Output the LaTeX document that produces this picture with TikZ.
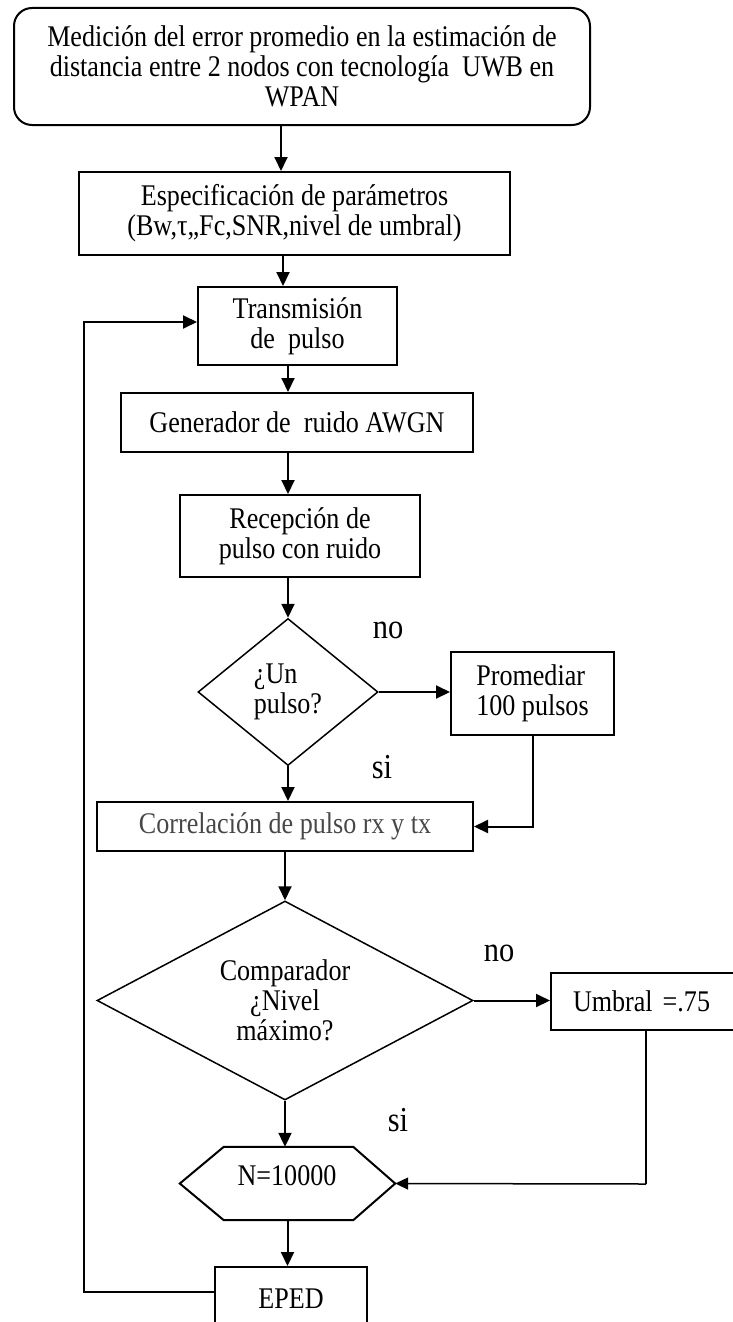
\documentclass[tikz,border=0pt]{standalone}
\usepackage{fontspec}
\setmainfont{Liberation Serif}[FakeStretch=0.87]
\usetikzlibrary{arrows.meta,shapes.geometric,calc}

\begin{document}
\begin{tikzpicture}[x=1pt,y=-1pt,
  txt/.style={font=\fontsize{30}{30}\selectfont, align=center, inner sep=0pt},
  box/.style={txt, draw, line width=2pt, rectangle},
  decision/.style={txt, draw, line width=1.5pt, diamond},
  arr/.style={line width=2pt, -{Triangle[length=14pt,width=13pt]}},
  thinarr/.style={line width=1.5pt, -{Triangle[length=13pt,width=12pt]}},
  answer/.style={font=\fontsize{35}{35}\selectfont, inner sep=0pt}
]
\useasboundingbox (0,0) rectangle (733,1322);

% process blocks
\node[box, rounded corners=18pt, minimum width=576pt, minimum height=117pt] (top) at (302,66.5)
  {Medición del error promedio en la estimación de\\distancia entre 2 nodos con tecnología\ \ UWB en\\WPAN};
\node[box, minimum width=431pt, minimum height=83pt] (spec) at (294.5,213.5)
  {Especificación de parámetros\\(Bw,τ,,Fc,SNR,nivel de umbral)};
\node[box, minimum width=199pt, minimum height=78pt] (trans) at (297.5,326)
  {Transmisión\\de\ \ pulso};
\node[box, minimum width=352pt, minimum height=59pt] (gen) at (297,422.5)
  {Generador de\ \ ruido AWGN};
\node[box, minimum width=240pt, minimum height=82pt] (recep) at (300,536)
  {Recepción de\\pulso con ruido};
\node[decision, minimum width=180pt, minimum height=147pt, align=left] (dec1) at (288,692)
  {¿Un\\pulso?};
\node[box, minimum width=163pt, minimum height=83pt, align=left] (prom) at (532.5,693.5)
  {Promediar\\100 pulsos};
\node[box, minimum width=376pt, minimum height=49pt, text=black!72] (corr) at (285,826.5)
  {Correlación de pulso rx y tx};
\node[decision, aspect=1.9, minimum width=376pt, minimum height=199pt] (dec2) at (285,1000.5)
  {Comparador\\¿Nivel\\máximo?};
\node[box, anchor=west, text width=173pt, align=left, inner xsep=22pt, minimum height=57pt] (umb) at (550,1001.5)
  {Umbral =.75};

% counter block (hexagon)
\node[minimum width=215pt, minimum height=73pt, inner sep=0pt] (hex) at (287.5,1183.5) {};
\draw[line width=2pt] (hex.west) -- ([xshift=44pt]hex.north west) -- ([xshift=-42pt]hex.north east)
  -- (hex.east) -- ([xshift=-42pt]hex.south east) -- ([xshift=44pt]hex.south west) -- cycle;
\node[txt] (hexlabel) at (287,1176) {N=10000};

\node[box, minimum width=152pt, minimum height=63pt] (eped) at (291,1298.5) {EPED};

% decision answers
\node[answer] (no1) at (388,630) {no};
\node[answer] (si1) at (382,767) {si};
\node[answer] (no2) at (499,953) {no};
\node[answer] (si2) at (398,1120) {si};

% main flow
\draw[arr] ([xshift=-21pt]top.south) -- ([xshift=-21pt]top.south |- spec.north);
\draw[arr] ([xshift=-11.5pt]spec.south) -- ([xshift=-11.5pt]spec.south |- trans.north);
\draw[arr] ([xshift=-9.5pt]trans.south) -- ([xshift=-9.5pt]trans.south |- gen.north);
\draw[arr] ([xshift=-9pt]gen.south) -- ([xshift=-9pt]gen.south |- recep.north);
\draw[arr] (recep.south -| dec1.north) -- (dec1.north);
\draw[arr] (dec1.east) -- (dec1.east -| prom.west);
\draw[arr] (dec1.south) -- (dec1.south |- corr.north);
\draw[arr] (prom.south) |- (corr.east);
\draw[arr] (corr.south) -- (dec2.north);
\draw[arr] (dec2.east) -- (dec2.east -| umb.west);
\draw[arr] (dec2.south) -- (dec2.south |- hex.north);
\draw[arr] (hex.south) -- (hex.south |- eped.north);

% threshold return
\coordinate (ujoin) at (646,1184);
\draw[line width=1.5pt] (umb.south -| ujoin) -- (ujoin);
\draw[thinarr] (ujoin) -- (hex.east);

% loop back to transmission
\coordinate (loopbot) at (84,1292);
\coordinate (looptop) at (84,322);
\draw[arr] ([yshift=6.5pt]eped.west) -- (loopbot) -- (looptop) -- (looptop -| trans.west);
\end{tikzpicture}
\end{document}
